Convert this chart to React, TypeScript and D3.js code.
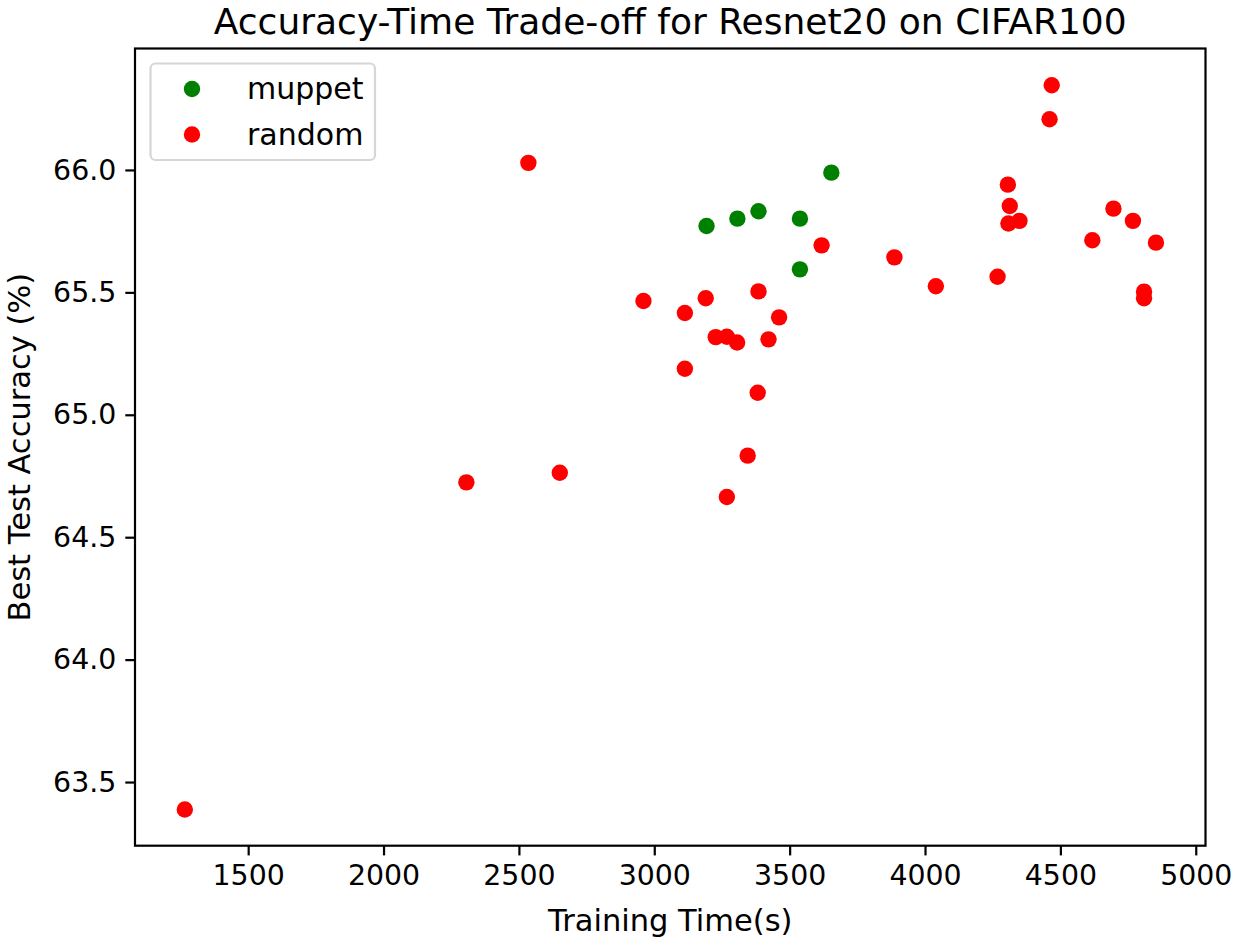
import { useRef, useEffect } from 'react';
import * as d3 from 'd3';

// training time (s) and best test accuracy (%)
const muppetTime = [3193, 3307, 3385, 3538, 3654, 3538];
const muppetAcc = [65.771, 65.801, 65.831, 65.801, 65.989, 65.594];

const randomTime = [
    3618, 3385, 2960, 3190, 3113, 3461, 3227, 3268, 3306, 3422, 3113, 3382,
    3345, 3268, 4468, 4460, 4306, 4313, 4308, 4349, 4696, 4768, 4618, 4853,
    3887, 4040, 4268, 4809, 4809, 2535, 2306, 2651, 1266,
];
const randomAcc = [
    65.692, 65.504, 65.465, 65.476, 65.416, 65.398, 65.317, 65.319, 65.295, 65.308, 65.188, 65.090,
    64.833, 64.664, 66.346, 66.207, 65.940, 65.853, 65.781, 65.792, 65.842, 65.792, 65.713, 65.703,
    65.643, 65.525, 65.564, 65.503, 65.476, 66.029, 64.724, 64.763, 63.388,
];

const seriesNames = ['muppet', 'random'];
const seriesColors = ['#008000', '#ff0000'];
const xTicks = [1500, 2000, 2500, 3000, 3500, 4000, 4500, 5000];
const yTicks = [63.5, 64.0, 64.5, 65.0, 65.5, 66.0];

const W = 1234;
const H = 940;
const FONT = '"DejaVu Sans", sans-serif';

const App = () => {
    const svgRef = useRef(null);

    useEffect(() => {
        const svg = d3.select(svgRef.current);
        svg.selectAll('*').remove();

        const left = 135, right = 1205.5, top = 48.5, bottom = 845.7;

        const x = d3.scaleLinear().domain([1082, 5036]).range([left, right]);
        const y = d3.scaleLinear().domain([63.240, 66.496]).range([bottom, top]);

        svg.append('rect').attr('width', W).attr('height', H).attr('fill', '#fff');

        // points
        const series = [
            { name: seriesNames[0], color: seriesColors[0], xs: muppetTime, ys: muppetAcc },
            { name: seriesNames[1], color: seriesColors[1], xs: randomTime, ys: randomAcc },
        ];
        series.forEach((s) => {
            svg.append('g')
                .selectAll('circle')
                .data(s.xs.map((v, i) => [v, s.ys[i]]))
                .join('circle')
                .attr('cx', (d) => x(d[0]))
                .attr('cy', (d) => y(d[1]))
                .attr('r', 8.2)
                .attr('fill', s.color);
        });

        // axes
        const xAxis = svg.append('g')
            .attr('transform', `translate(0,${bottom})`)
            .call(d3.axisBottom(x).tickValues(xTicks).tickSize(9.7).tickPadding(9.5).tickFormat(d3.format('d')));
        const yAxis = svg.append('g')
            .attr('transform', `translate(${left},0)`)
            .call(d3.axisLeft(y).tickValues(yTicks).tickSize(9.7).tickPadding(9).tickFormat(d3.format('.1f')));
        [xAxis, yAxis].forEach((a) => {
            a.select('.domain').remove();
            a.selectAll('line').attr('stroke', '#000').attr('stroke-width', 2.2);
            a.selectAll('text').attr('font-family', FONT).attr('font-size', 28.4).attr('fill', '#000');
        });
        xAxis.selectAll('text').attr('dy', '0.71em');

        // frame
        svg.append('rect')
            .attr('x', left).attr('y', top)
            .attr('width', right - left).attr('height', bottom - top)
            .attr('fill', 'none').attr('stroke', '#000').attr('stroke-width', 2.2);

        // title and labels
        svg.append('text')
            .attr('x', (left + right) / 2).attr('y', 34)
            .attr('text-anchor', 'middle')
            .attr('font-family', FONT).attr('font-size', 36)
            .text('Accuracy-Time Trade-off for Resnet20 on CIFAR100');
        svg.append('text')
            .attr('x', (left + right) / 2).attr('y', 931)
            .attr('text-anchor', 'middle')
            .attr('font-family', FONT).attr('font-size', 30.5)
            .text('Training Time(s)');
        svg.append('text')
            .attr('transform', `translate(30,${(top + bottom) / 2}) rotate(-90)`)
            .attr('text-anchor', 'middle')
            .attr('font-family', FONT).attr('font-size', 30.5)
            .text('Best Test Accuracy (%)');

        // legend
        const lg = svg.append('g');
        lg.append('rect')
            .attr('x', 150.5).attr('y', 63.5).attr('width', 224.5).attr('height', 96.5)
            .attr('rx', 5).attr('fill', '#fff').attr('fill-opacity', 0.8)
            .attr('stroke', '#d6d6d6').attr('stroke-width', 2.2);
        series.forEach((s, i) => {
            const cy = 89 + i * 45.5;
            lg.append('circle').attr('cx', 192).attr('cy', cy).attr('r', 8.2).attr('fill', s.color);
            lg.append('text')
                .attr('x', 247).attr('y', cy + 10)
                .attr('font-family', FONT).attr('font-size', 30)
                .text(s.name);
        });
    }, []);

    return (
        <svg ref={svgRef} width={W} height={H}
            style={{ position: 'absolute', left: 0, top: 0, display: 'block' }} />
    );
};

export default App;
